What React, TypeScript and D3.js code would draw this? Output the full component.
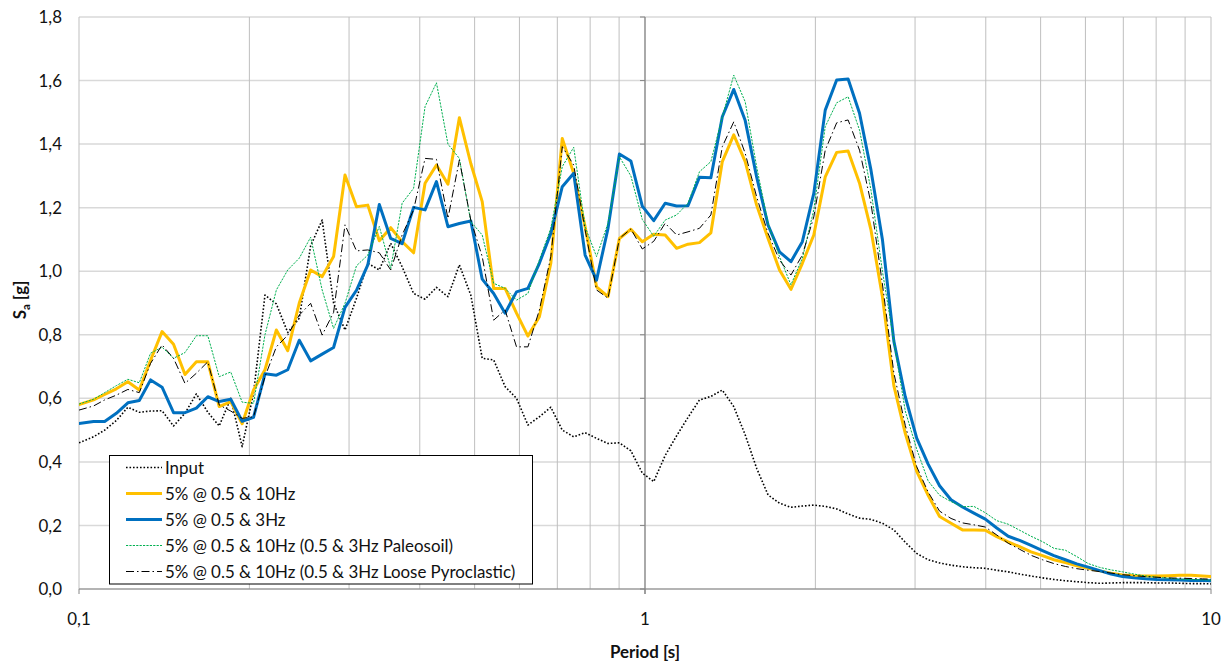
import React from 'react';
import * as d3 from 'd3';

const periods = [
  0.1, 0.1061, 0.111, 0.1164, 0.122, 0.1278, 0.1338, 0.1402, 0.1469, 0.1539,
  0.1612, 0.1689, 0.1769, 0.1854, 0.1942, 0.2034, 0.2131, 0.2232, 0.2338, 0.245,
  0.2566, 0.2689, 0.2817, 0.2951, 0.3092, 0.3238, 0.3393, 0.3554, 0.3723, 0.3901,
  0.4087, 0.4281, 0.4486, 0.4699, 0.4923, 0.5157, 0.5403, 0.566, 0.5929, 0.6211,
  0.6507, 0.6817, 0.7142, 0.7482, 0.7838, 0.8211, 0.8603, 0.9011, 0.9441, 0.989,
  1.0361, 1.0855, 1.1371, 1.1913, 1.248, 1.3074, 1.3696, 1.4349, 1.5033, 1.5748,
  1.6498, 1.7284, 1.8106, 1.8968, 1.9871, 2.0818, 2.1809, 2.2848, 2.3936, 2.5076,
  2.6269, 2.752, 2.883, 3.0203, 3.1641, 3.3148, 3.4727, 3.638, 3.8112, 3.9927,
  4.1828, 4.382, 4.5907, 4.8092, 5.0382, 5.2781, 5.5295, 5.7928, 6.0685, 6.3575,
  6.6602, 6.9774, 7.3096, 7.6576, 8.0223, 8.4043, 8.8045, 9.2237, 9.6629, 10.0,
];

const inputSa = [
  0.46, 0.479, 0.5, 0.53, 0.572, 0.556, 0.56, 0.561, 0.513, 0.553,
  0.614, 0.556, 0.513, 0.6, 0.448, 0.616, 0.925, 0.897, 0.807, 0.852,
  1.08, 1.161, 0.9, 0.815, 0.915, 1.025, 1.004, 1.088, 1.014, 0.93,
  0.912, 0.949, 0.92, 1.02, 0.925, 0.726, 0.721, 0.637, 0.6, 0.516,
  0.542, 0.572, 0.5, 0.479, 0.492, 0.474, 0.458, 0.46, 0.435, 0.365,
  0.338, 0.42, 0.482, 0.54, 0.595, 0.606, 0.626, 0.574, 0.485, 0.38,
  0.296, 0.27, 0.257, 0.261, 0.264, 0.26, 0.252, 0.236, 0.223, 0.219,
  0.207, 0.186, 0.147, 0.112, 0.092, 0.082, 0.075, 0.07, 0.067, 0.065,
  0.059, 0.054, 0.047, 0.041, 0.035, 0.03, 0.026, 0.023, 0.02, 0.018,
  0.019, 0.02, 0.02, 0.02, 0.019, 0.019, 0.018, 0.017, 0.017, 0.016,
];

const sa10Hz = [
  0.58, 0.595, 0.612, 0.63, 0.652, 0.626, 0.72, 0.81, 0.77, 0.675,
  0.715, 0.715, 0.574, 0.59, 0.52, 0.626, 0.69, 0.815, 0.75, 0.9,
  1.004, 0.983, 1.046, 1.303, 1.203, 1.208, 1.096, 1.137, 1.093, 1.058,
  1.277, 1.334, 1.274, 1.483, 1.339, 1.219, 0.946, 0.946, 0.868, 0.796,
  0.857, 1.025, 1.418, 1.308, 1.14, 0.951, 0.92, 1.103, 1.132, 1.093,
  1.116, 1.114, 1.072, 1.085, 1.09, 1.121, 1.345, 1.429, 1.345, 1.208,
  1.103, 1.004, 0.943, 1.025, 1.114, 1.297, 1.374, 1.378, 1.277, 1.13,
  0.92, 0.64, 0.49, 0.37, 0.295, 0.228, 0.207, 0.186, 0.186, 0.185,
  0.165, 0.148, 0.133, 0.117, 0.105, 0.092, 0.083, 0.073, 0.065, 0.057,
  0.05, 0.044, 0.042, 0.041, 0.041, 0.042, 0.043, 0.043, 0.041, 0.039,
];

const sa3Hz = [
  0.521, 0.527, 0.527, 0.553, 0.586, 0.593, 0.658, 0.635, 0.555, 0.555,
  0.569, 0.605, 0.59, 0.597, 0.528, 0.54, 0.677, 0.673, 0.69, 0.783,
  0.718, 0.739, 0.76, 0.886, 0.94, 1.02, 1.21, 1.103, 1.087, 1.201,
  1.193, 1.282, 1.14, 1.15, 1.158, 0.975, 0.93, 0.868, 0.935, 0.946,
  1.025, 1.119, 1.266, 1.308, 1.051, 0.972, 1.135, 1.369, 1.347, 1.205,
  1.159, 1.214, 1.205, 1.206, 1.296, 1.294, 1.486, 1.572, 1.474, 1.297,
  1.145, 1.061, 1.03, 1.093, 1.245, 1.507, 1.602, 1.605, 1.497, 1.318,
  1.1, 0.78, 0.605, 0.475, 0.393, 0.325, 0.281, 0.258, 0.239, 0.22,
  0.192, 0.166, 0.153, 0.137, 0.121, 0.105, 0.092, 0.079, 0.069, 0.058,
  0.047, 0.039, 0.035, 0.032, 0.03, 0.029, 0.028, 0.027, 0.027, 0.026,
];

const saPaleosoil = [
  0.582, 0.597, 0.618, 0.64, 0.66, 0.649, 0.742, 0.761, 0.726, 0.744,
  0.797, 0.797, 0.668, 0.683, 0.588, 0.584, 0.8, 0.941, 1.004, 1.041,
  1.107, 0.941, 0.82, 0.899, 1.017, 1.051, 1.141, 1.009, 1.214, 1.261,
  1.518, 1.593, 1.4, 1.355, 1.156, 1.114, 0.962, 0.946, 0.909, 0.93,
  1.035, 1.135, 1.329, 1.39, 1.14, 1.046, 1.151, 1.36, 1.3, 1.163,
  1.11, 1.161, 1.177, 1.214, 1.313, 1.345, 1.486, 1.617, 1.533, 1.329,
  1.151, 1.046, 0.957, 1.041, 1.193, 1.455, 1.53, 1.549, 1.444, 1.255,
  1.0, 0.78, 0.56, 0.44, 0.34, 0.295, 0.275, 0.259, 0.26, 0.24,
  0.215, 0.204, 0.185, 0.166, 0.149, 0.128, 0.122, 0.102, 0.08, 0.068,
  0.06, 0.054, 0.047, 0.041, 0.037, 0.034, 0.031, 0.03, 0.029, 0.028,
];

const saLoose = [
  0.563, 0.576, 0.595, 0.61, 0.628, 0.618, 0.71, 0.768, 0.726, 0.647,
  0.679, 0.715, 0.579, 0.56, 0.537, 0.542, 0.668, 0.762, 0.799, 0.862,
  0.899, 0.799, 0.87, 1.146, 1.064, 1.067, 1.058, 1.004, 1.114, 1.193,
  1.355, 1.352, 1.166, 1.35, 1.161, 1.046, 0.846, 0.878, 0.762, 0.762,
  0.878, 1.046, 1.392, 1.334, 1.13, 0.941, 0.915, 1.103, 1.133, 1.07,
  1.094, 1.151, 1.114, 1.124, 1.135, 1.177, 1.392, 1.47, 1.371, 1.234,
  1.119, 1.035, 0.988, 1.051, 1.171, 1.381, 1.467, 1.476, 1.381, 1.214,
  0.96, 0.68, 0.515, 0.385, 0.305, 0.245, 0.222, 0.208, 0.202, 0.195,
  0.17, 0.144, 0.125, 0.106, 0.092, 0.08, 0.071, 0.064, 0.059, 0.055,
  0.05, 0.045, 0.042, 0.039, 0.037, 0.035, 0.034, 0.033, 0.032, 0.031,
];

const seriesNames = [
  'Input',
  '5% @ 0.5 & 10Hz',
  '5% @ 0.5 & 3Hz',
  '5% @ 0.5 & 10Hz (0.5 & 3Hz Paleosoil)',
  '5% @ 0.5 & 10Hz (0.5 & 3Hz Loose Pyroclastic)',
];
const seriesValues = [inputSa, sa10Hz, sa3Hz, saPaleosoil, saLoose];

const yTicks = [0, 0.2, 0.4, 0.6, 0.8, 1.0, 1.2, 1.4, 1.6, 1.8];
const yTickLabels = ['0,0', '0,2', '0,4', '0,6', '0,8', '1,0', '1,2', '1,4', '1,6', '1,8'];
const xTicks = [0.1, 1, 10];
const xTickLabels = ['0,1', '1', '10'];
const xGrid = [0.1, 0.2, 0.3, 0.4, 0.5, 0.6, 0.7, 0.8, 0.9, 1, 2, 3, 4, 5, 6, 7, 8, 9, 10];

const styles = [
  { stroke: '#000000', width: 1.6, dash: '1.6 1.9', cap: 'butt' },
  { stroke: '#FFC000', width: 3, dash: '', cap: 'round' },
  { stroke: '#0070C0', width: 3, dash: '', cap: 'round' },
  { stroke: '#00B050', width: 1, dash: '2.2 1.2', cap: 'butt' },
  { stroke: '#000000', width: 1, dash: '8 3 1.5 3', cap: 'butt' },
];

const FONT = 'Lato, "Open Sans", sans-serif';
const FS = 16.9;

export default function App() {
  const W = 1229, H = 663;
  const left = 79, right = 1211, top = 17, bottom = 589;
  const x = d3.scaleLog().domain([0.1, 10]).range([left, right]);
  const y = d3.scaleLinear().domain([0, 1.8]).range([bottom, top]);
  const line = d3.line<number>()
    .x((_, i) => x(periods[i]))
    .y((d) => y(d));
  const axisX = x(1);

  const legendX = 109.5, legendY = 455.5, legendW = 423, legendH = 128.5;
  const rowY = (i: number) => 467.5 + i * 26;

  return (
    <svg width={W} height={H} style={{ position: 'absolute', left: 0, top: 0, background: '#fff' }}
      fontFamily={FONT}>
      <defs>
        <clipPath id="plot">
          <rect x={left} y={top - 2} width={right - left} height={bottom - top + 4} />
        </clipPath>
      </defs>
      <rect x={0} y={0} width={W} height={H} fill="#fff" />
      {yTicks.map((t) => (
        <line key={'hy' + t} x1={left} x2={right} y1={y(t)} y2={y(t)} stroke="#d9d9d9" strokeWidth={1.5} />
      ))}
      {xGrid.map((t) => (
        <line key={'gx' + t} x1={x(t)} x2={x(t)} y1={top} y2={bottom} stroke="#bfbfbf" strokeWidth={1} />
      ))}
      <line x1={axisX} x2={axisX} y1={top} y2={bottom + 5} stroke="#868686" strokeWidth={1.2} />
      {yTicks.map((t) => (
        <line key={'ty' + t} x1={axisX - 5} x2={axisX} y1={y(t)} y2={y(t)} stroke="#868686" strokeWidth={1} />
      ))}
      <line x1={left} x2={right} y1={bottom} y2={bottom} stroke="#868686" strokeWidth={1.2} />
      {xTicks.map((t) => (
        <line key={'tx' + t} x1={x(t)} x2={x(t)} y1={bottom} y2={bottom + 5} stroke="#868686" strokeWidth={1} />
      ))}
      <g clipPath="url(#plot)">
        {seriesValues.map((vals, k) => (
          <path key={'s' + k} d={line(vals) || ''} fill="none" stroke={styles[k].stroke}
            strokeWidth={styles[k].width} strokeDasharray={styles[k].dash || undefined}
            strokeLinejoin="round" strokeLinecap={styles[k].cap as any} />
        ))}
      </g>
      {yTicks.map((t, i) => (
        <text key={'ly' + t} x={62} y={y(t)} dy="0.36em" textAnchor="end" fontSize={FS} fill="#111">
          {yTickLabels[i]}
        </text>
      ))}
      {xTicks.map((t, i) => (
        <text key={'lx' + t} x={x(t)} y={625} textAnchor="middle" fontSize={FS} fill="#111">
          {xTickLabels[i]}
        </text>
      ))}
      <text x={645} y={658} textAnchor="middle" fontSize={FS} fontWeight="bold" fill="#111">Period [s]</text>
      <text transform="rotate(-90)" x={-300} y={26} textAnchor="middle" fontSize={FS} fontWeight="bold" fill="#111">
        <tspan>S</tspan>
        <tspan fontSize={11.5} dy={4}>a</tspan>
        <tspan dy={-4}> [g]</tspan>
      </text>
      <rect x={legendX} y={legendY} width={legendW} height={legendH} fill="#fff" stroke="#000" strokeWidth={1} />
      {seriesNames.map((name, k) => (
        <g key={'lg' + k}>
          <line x1={126} x2={162} y1={rowY(k)} y2={rowY(k)} stroke={styles[k].stroke}
            strokeWidth={styles[k].width} strokeDasharray={styles[k].dash || undefined} />
          <text x={165} y={rowY(k)} dy="0.36em" fontSize={FS} fill="#111">{name}</text>
        </g>
      ))}
    </svg>
  );
}
